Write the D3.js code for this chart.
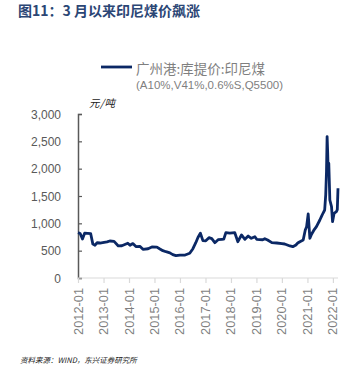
<!DOCTYPE html>
<html><head><meta charset="utf-8">
<script src="https://cdn.jsdelivr.net/npm/d3@7"></script>
<style>body{margin:0;background:#fff;}svg{display:block;}</style>
</head><body>
<svg id="c" width="360" height="365"></svg>
<script>
const title = "图11：3 月以来印尼煤价飙涨";
const seriesName = "广州港:库提价:印尼煤";
const seriesSpec = "(A10%,V41%,0.6%S,Q5500)";
const unitLabel = "元/吨";
const sourceText = "资料来源：WIND，东兴证券研究所";
const yTicks = [0, 500, 1000, 1500, 2000, 2500, 3000];
const xTickLabels = ["2012-01","2013-01","2014-01","2015-01","2016-01","2017-01","2018-01","2019-01","2020-01","2021-01","2022-01"];
const dates = ["2012-01-01","2012-02-01","2012-03-05","2012-04-05","2012-05-20","2012-07-01","2012-08-01","2012-09-01","2012-10-01","2012-11-10","2013-02-20","2013-04-01","2013-06-01","2013-08-01","2013-09-20","2013-12-15","2014-01-15","2014-02-25","2014-04-10","2014-06-05","2014-07-20","2014-10-01","2014-11-25","2015-02-05","2015-03-20","2015-05-01","2015-06-15","2015-08-10","2015-09-20","2015-11-05","2016-01-01","2016-03-15","2016-05-20","2016-07-05","2016-08-15","2016-09-15","2016-10-20","2016-11-25","2017-01-05","2017-02-20","2017-04-01","2017-05-15","2017-07-01","2017-08-25","2017-09-20","2017-10-20","2017-12-15","2018-02-25","2018-04-10","2018-06-01","2018-07-20","2018-09-05","2018-10-20","2018-12-10","2019-01-05","2019-04-01","2019-05-01","2019-06-10","2019-08-10","2019-10-20","2020-01-01","2020-02-10","2020-04-25","2020-06-05","2020-07-20","2020-08-15","2020-09-15","2020-11-01","2020-12-01","2020-12-20","2021-01-12","2021-02-05","2021-03-01","2021-04-01","2021-05-10","2021-06-28","2021-07-20","2021-08-12","2021-09-05","2021-09-20","2021-10-01","2021-10-10","2021-10-18","2021-10-25","2021-11-03","2021-11-18","2021-12-12","2021-12-27","2022-01-18","2022-02-20","2022-03-05","2022-03-15"];
const prices = [829,815,713,820,815,810,620,600,645,640,660,677,670,586,590,635,600,630,575,580,525,535,567,565,531,500,481,460,428,408,420,420,452,536,646,740,818,683,680,738,720,646,700,708,710,829,820,829,664,787,708,768,726,756,708,700,720,695,646,640,630,622,586,573,604,640,664,695,878,939,1171,726,800,870,939,1061,1122,1184,1244,1519,1945,2586,2300,1950,2099,1427,1305,1030,1184,1214,1250,1642];

const svg = d3.select("#c");
const parse = d3.timeParse("%Y-%m-%d");
const parseM = d3.timeParse("%Y-%m");
const data = dates.map((d,i)=>({date:parse(d), v:prices[i]}));

const x = d3.scaleTime().domain([parse("2012-01-01"), parse("2022-03-15")]).range([78, 338]);
const y = d3.scaleLinear().domain([0, 3000]).range([278, 114]);

// title
svg.append("text").attr("x",18).attr("y",16).attr("font-family","'Noto Sans CJK SC', sans-serif")
  .attr("font-size",14).attr("font-weight","bold").attr("fill","#2b4675").text(title);

// legend
svg.append("line").attr("x1",101).attr("x2",132).attr("y1",67).attr("y2",67)
  .attr("stroke","#0b2865").attr("stroke-width",2.8);
svg.append("text").attr("x",136).attr("y",74).attr("font-family","'Noto Sans CJK SC', sans-serif")
  .attr("font-size",13.5).attr("fill","#7f7f7f").text(seriesName);
svg.append("text").attr("x",136).attr("y",89).attr("font-family","'Liberation Sans', Arial, sans-serif")
  .attr("font-size",11.5).attr("fill","#7f7f7f").text(seriesSpec);

// unit
svg.append("text").attr("x",89).attr("y",107).attr("font-family","'Noto Sans CJK SC', sans-serif")
  .attr("font-size",10.5).attr("font-style","italic").attr("letter-spacing",0.5).attr("fill","#222").text(unitLabel);

// y axis
const yAxis = d3.axisRight(y).tickValues(yTicks).tickSize(4).tickFormat("");
const gy = svg.append("g").attr("transform","translate(78,0)").call(yAxis);
gy.select(".domain").attr("stroke","#595959").attr("stroke-width",1.5);
gy.selectAll(".tick line").attr("stroke","#595959").attr("stroke-width",1.2);
svg.append("g").selectAll("text").data(yTicks).join("text")
  .attr("x",61).attr("y",d=>y(d)+4.5).attr("text-anchor","end")
  .attr("font-family","'Liberation Sans', Arial, sans-serif").attr("font-size",12).attr("fill","#595959")
  .text(d=>d3.format(",")(d));

// x axis
const xTickDates = xTickLabels.map(s=>parseM(s));
const xAxis = d3.axisBottom(x).tickValues(xTickDates).tickSize(5).tickFormat("");
const gx = svg.append("g").attr("transform","translate(0,278)").call(xAxis);
gx.select(".domain").attr("stroke","#d9d9d9").attr("stroke-width",1.2).attr("d","M78,0H338");
gx.selectAll(".tick line").attr("stroke","#d9d9d9").attr("stroke-width",1.2);
svg.append("g").selectAll("text").data(xTickLabels).join("text")
  .attr("transform",d=>`translate(${x(parseM(d))+4.5},288) rotate(-90)`)
  .attr("text-anchor","end")
  .attr("font-family","'Liberation Sans', Arial, sans-serif").attr("font-size",12.8).attr("fill","#7f7f7f")
  .text(d=>d);

// line
const line = d3.line().x(d=>x(d.date)).y(d=>y(d.v));
svg.append("path").datum(data).attr("d",line).attr("fill","none")
  .attr("stroke","#0b2865").attr("stroke-width",2.8).attr("stroke-linejoin","round");

// source
svg.append("text").attr("x",20).attr("y",363).attr("font-family","'Noto Sans CJK SC', sans-serif")
  .attr("font-size",7.5).attr("font-style","italic").attr("fill","#222").text(sourceText);
</script>
</body></html>
